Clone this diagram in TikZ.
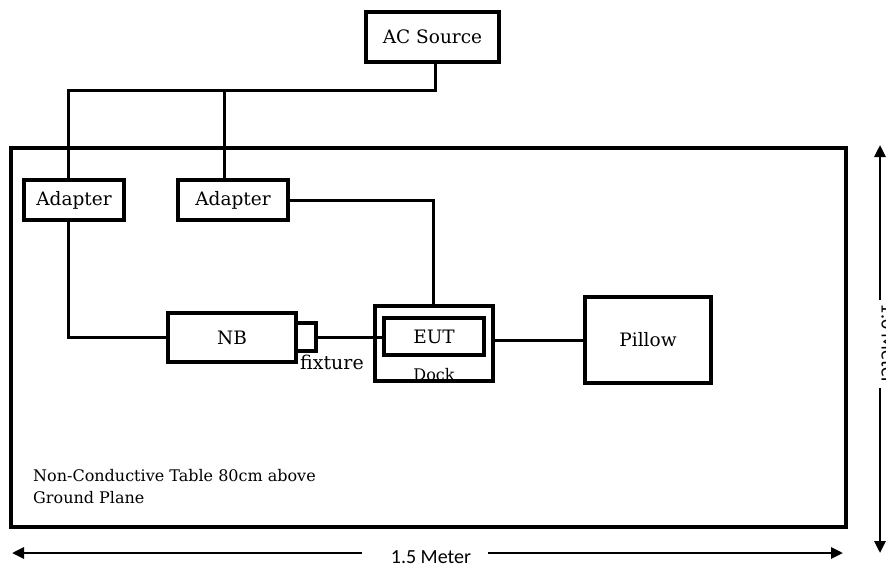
\documentclass[tikz,border=0pt]{standalone}
\usepackage{fontspec}
\setmainfont{DejaVu Serif}
\newfontfamily\calib{Carlito}
\usetikzlibrary{arrows.meta}
\begin{document}
\begin{tikzpicture}[x=1pt,y=-1pt,
  box/.style={draw,line width=3.2pt,inner sep=0pt},
  wire/.style={line width=3pt},
  lbl/.style={font=\fontsize{18.5}{22}\selectfont},
  small/.style={font=\fontsize{16}{22}\selectfont},
  dim/.style={line width=2.8pt,-{Triangle[length=12pt,width=11pt]}}]
\useasboundingbox (0,0) rectangle (886,571);
\node[box,minimum width=835,minimum height=379] (table) at (428.5,337.5) {};
\node[box,lbl,minimum width=133,minimum height=50] (ac) at (432.5,37) {AC Source};
\node[box,lbl,minimum width=100,minimum height=40] (ad1) at (74,200) {Adapter};
\node[box,lbl,minimum width=110,minimum height=40] (ad2) at (233,200) {Adapter};
\node[box,lbl,minimum width=128,minimum height=49] (nb) at (232,337.5) {NB};
\node[box,minimum width=20,minimum height=28] (fix) at (306,337) {};
\node[box,minimum width=118,minimum height=75] (dock) at (434,343.5) {};
\node[box,lbl,minimum width=100,minimum height=37] (eut) at (434,336.5) {EUT};
\node[box,lbl,minimum width=126,minimum height=86] (pillow) at (648,340) {Pillow};
\node[font=\fontsize{19}{22}\selectfont,anchor=north west,inner sep=0pt] (fixl) at (300,355) {fixture};
\node[font=\fontsize{16}{19}\selectfont,anchor=south,inner sep=2pt] (dockl) at (dock.south) {Dock};
\node[small,anchor=north west,inner sep=0pt,align=left] (note) at (33,469) {Non-Conductive Table 80cm above\\Ground Plane};
\coordinate (j1) at (435,90);
\coordinate (j2) at (224,90);
\coordinate (j3) at (68,90);
\draw[wire] (ac.south -| j1) -- (j1) -- (j3) -- (ad1.north -| j3);
\draw[wire] (j2) -- (ad2.north -| j2);
\coordinate (c1) at (68,337);
\draw[wire] (ad1.south -| c1) -- (c1) -- (nb.west |- c1);
\coordinate (c2) at (433,200);
\draw[wire] (ad2.east |- c2) -- (c2) -- (dock.north -| c2);
\draw[wire] (fix.east) -- (eut.west |- fix.east);
\draw[wire] (dock.east |- pillow.west) -- (pillow.west);
% dimensions
\node[font=\calib\fontsize{20}{24}\selectfont] (w) at (431,557) {1.5 Meter};
\coordinate (wl) at (12,553);
\coordinate (wr) at (843,553);
\draw[dim] (362,553) -- (wl);
\draw[dim] (488,553) -- (wr);
\node[font=\calib\fontsize{20}{24}\selectfont,rotate=-90] (h) at (888,344) {1.0 Meter};
\coordinate (ht) at (880,145);
\coordinate (hb) at (880,553);
\draw[dim] (880,300) -- (ht);
\draw[dim] (880,388) -- (hb);
\end{tikzpicture}
\end{document}
